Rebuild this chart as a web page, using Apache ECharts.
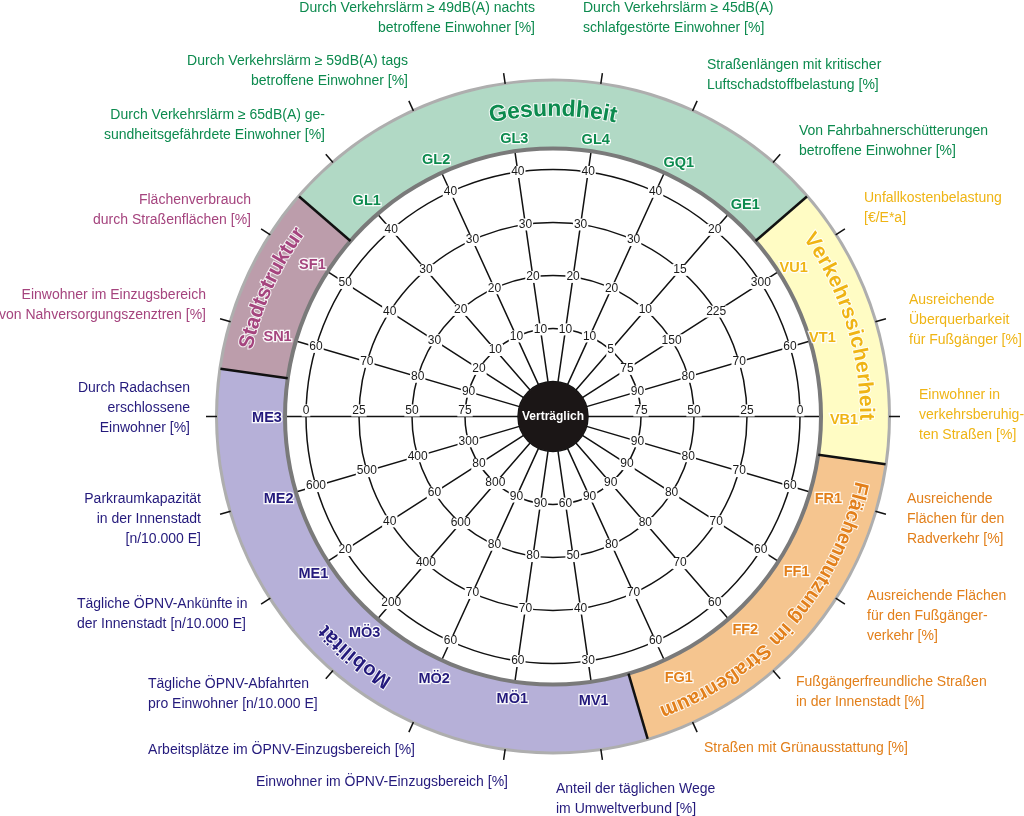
<!DOCTYPE html>
<html>
<head>
<meta charset="utf-8">
<title>Verträglichkeit</title>
<style>
  html, body { margin: 0; padding: 0; background: #fff; }
  #main { width: 1024px; height: 816px; }
</style>
<script src="https://cdn.jsdelivr.net/npm/echarts@6/dist/echarts.min.js"></script>
</head>
<body>
<div id="main"></div>
<script>
// spokes clockwise, starting with GL1
const spokeCodes = ['GL1', 'GL2', 'GL3', 'GL4', 'GQ1', 'GE1', 'VU1', 'VT1', 'VB1', 'FR1', 'FF1', 'FF2', 'FG1', 'MV1', 'MÖ1', 'MÖ2', 'MÖ3', 'ME1', 'ME2', 'ME3', 'SN1', 'SF1'];
// tick labels of each spoke, outer ring first
const spokeTicks = [
  [40, 30, 20, 10], [40, 30, 20, 10], [40, 30, 20, 10], [40, 30, 20, 10], [40, 30, 20, 10],
  [20, 15, 10, 5], [300, 225, 150, 75], [60, 70, 80, 90], [0, 25, 50, 75],
  [60, 70, 80, 90], [60, 70, 80, 90], [60, 70, 80, 90], [60, 70, 80, 90], [30, 40, 50, 60],
  [60, 70, 80, 90], [60, 70, 80, 90], [200, 400, 600, 800], [20, 40, 60, 80],
  [600, 500, 400, 300], [0, 25, 50, 75], [60, 70, 80, 90], [50, 40, 30, 20]
];
// sectors: how many spokes each one holds
const sectorNames = ['Gesundheit', 'Verkehrssicherheit', 'Flächennutzung im Straßenraum', 'Mobilität', 'Stadtstruktur'];
const sectorSpokes = [6, 3, 4, 7, 2];
const sectorFill = ['#b1d9c5', '#fffcc4', '#f5c58f', '#b6b0d8', '#bc9dab'];
const sectorInk = ['#0c8a4e', '#efb414', '#e27f1a', '#241a7c', '#a5447e'];
// title placement along the band: centre and span in degrees from north, radius, font size
const titleCentre = [0, 72.5, 131, 219.5, 294.5];
const titleSpan = [24, 36, 58, 16, 24];
const titleRadius = [307, 313, 315, 313, 314];
const titleSize = [23, 21, 20, 20, 21];
// the code labels do not sit exactly on their spokes, pixel nudge for each
const codeNudge = [
  [1, 1], [2, 4], [2, 6], [2, 7], [7, 7], [5, 5], [0, 6], [-5, 2], [5, 3], [1, 2], [3, 1],
  [5, -3], [7, 1], [0, 1], [0, -1], [0, 2], [-1, 0], [1, 3], [0, 2], [0, 1], [-1, 1], [0, 3]
];

const indicatorTexts = [
  'Durch Verkehrslärm ≥ 65dB(A) ge-\nsundheitsgefährdete Einwohner [%]',
  'Durch Verkehrslärm ≥ 59dB(A) tags\nbetroffene Einwohner [%]',
  'Durch Verkehrslärm ≥ 49dB(A) nachts\nbetroffene Einwohner [%]',
  'Durch Verkehrslärm ≥ 45dB(A)\nschlafgestörte Einwohner [%]',
  'Straßenlängen mit kritischer\nLuftschadstoffbelastung [%]',
  'Von Fahrbahnerschütterungen\nbetroffene Einwohner [%]',
  'Unfallkostenbelastung\n[€/E*a]',
  'Ausreichende\nÜberquerbarkeit\nfür Fußgänger [%]',
  'Einwohner in\nverkehrsberuhig-\nten Straßen [%]',
  'Ausreichende\nFlächen für den\nRadverkehr [%]',
  'Ausreichende Flächen\nfür den Fußgänger-\nverkehr [%]',
  'Fußgängerfreundliche Straßen\nin der Innenstadt [%]',
  'Straßen mit Grünausstattung [%]',
  'Anteil der täglichen Wege\nim Umweltverbund [%]',
  'Einwohner im ÖPNV-Einzugsbereich [%]',
  'Arbeitsplätze im ÖPNV-Einzugsbereich [%]',
  'Tägliche ÖPNV-Abfahrten\npro Einwohner [n/10.000 E]',
  'Tägliche ÖPNV-Ankünfte in\nder Innenstadt [n/10.000 E]',
  'Parkraumkapazität\nin der Innenstadt\n[n/10.000 E]',
  'Durch Radachsen\nerschlossene\nEinwohner [%]',
  'Einwohner im Einzugsbereich\nvon Nahversorgungszenztren [%]',
  'Flächenverbrauch\ndurch Straßenflächen [%]'
];
// where each text sits: x, y of the first line centre, alignment
const textAnchors = [
  [325, 114, 'right'], [408, 60, 'right'], [535, 7, 'right'], [583, 7, 'left'], [707, 64, 'left'], [799, 130, 'left'],
  [864, 197, 'left'], [909, 299, 'left'], [919, 394, 'left'], [907, 498, 'left'], [867, 595, 'left'], [796, 681, 'left'],
  [704, 747, 'left'], [556, 788, 'left'], [508, 781, 'right'], [415, 749, 'right'], [148, 683, 'left'], [77, 603, 'left'],
  [201, 498, 'right'], [190, 387, 'right'], [206, 294, 'right'], [251, 199, 'right']
];

const FONT = '"Liberation Sans", Arial, sans-serif';
const CX = 553, CY = 416.5;
const R_CORE = 35, R_INNER = 268, R_BAND = 335, R_OUTER = 338;
const RING_STEP = 53;
const step = 360 / spokeCodes.length;
const firstSpoke = -2.5 * step; // GL1, clockwise from north

function sectorOf(i) {
  let n = 0;
  for (let s = 0; s < sectorSpokes.length; s++) {
    n += sectorSpokes[s];
    if (i < n) return s;
  }
  return 0;
}

// degrees from north -> value on the angle axis
function fromNorth(a) {
  return ((a - firstSpoke) % 360 + 360) % 360;
}

const tickData = [];
spokeTicks.forEach(function (ticks, i) {
  ticks.forEach(function (t, j) {
    const horizontal = Math.abs(((i * step + firstSpoke) % 180 + 180) % 180 - 90) < 0.01;
    tickData.push({
      value: [4 - j, i * step],
      label: {
        formatter: String(t),
        offset: horizontal ? [0, -6] : [0, 0]
      }
    });
  });
});

const codeData = spokeCodes.map(function (code, i) {
  const s = sectorOf(i);
  return {
    value: [286, i * step],
    label: { formatter: code, color: sectorInk[s], offset: codeNudge[i] }
  };
});

// sector titles follow the band, one label per letter
const measure = document.createElement('canvas').getContext('2d');
const letterData = [];
sectorNames.forEach(function (name, s) {
  measure.font = 'bold ' + titleSize[s] + 'px ' + FONT;
  const total = measure.measureText(name).width;
  let used = 0;
  name.split('').forEach(function (ch) {
    const w = measure.measureText(ch).width;
    const a = titleCentre[s] + ((used + w / 2) / total - 0.5) * titleSpan[s];
    used += w;
    if (ch === ' ') return;
    letterData.push({
      value: [titleRadius[s], fromNorth(a)],
      label: {
        formatter: ch,
        rotate: -a,
        fontSize: titleSize[s],
        color: sectorInk[s]
      }
    });
  });
});

function segment(r0, r1, a, width) {
  return {
    type: 'line',
    coordinateSystem: 'polar',
    polarIndex: 1,
    silent: true,
    symbol: 'none',
    z: 4,
    lineStyle: { color: '#111', width: width },
    data: [[r0, a], [r1, a]]
  };
}

const boundarySeries = [];
let spokeCount = 0;
sectorSpokes.forEach(function (n) {
  boundarySeries.push(segment(R_INNER, R_BAND + 1, (spokeCount - 0.5 + spokeCodes.length) * step % 360, 2.5));
  spokeCount += n;
});
const outerTicks = spokeCodes.map(function (c, i) {
  return segment(R_OUTER - 2, R_OUTER + 9, i * step, 1.5);
});

// scatter fades to 0.8 by default and its labels inherit that
const hiddenDot = { color: 'transparent', opacity: 1 };

const option = {
  animation: false,
  backgroundColor: '#fff',
  polar: [
    { center: [CX, CY], radius: [R_CORE, R_INNER] },
    { center: [CX, CY], radius: [0, 400] }
  ],
  angleAxis: [
    {
      polarIndex: 0, type: 'value', min: 0, max: 360, interval: step,
      startAngle: 90 - firstSpoke, clockwise: true,
      axisLine: { show: false }, axisTick: { show: false }, axisLabel: { show: false },
      splitLine: { show: true, lineStyle: { color: '#111', width: 1.5 } }
    },
    {
      polarIndex: 1, type: 'value', min: 0, max: 360,
      startAngle: 90 - firstSpoke, clockwise: true,
      axisLine: { show: false }, axisTick: { show: false }, axisLabel: { show: false }, splitLine: { show: false }
    }
  ],
  radiusAxis: [
    {
      polarIndex: 0, type: 'value', min: 0, max: (R_INNER - R_CORE) / RING_STEP, interval: 1,
      axisLine: { show: false }, axisTick: { show: false }, axisLabel: { show: false },
      splitLine: { show: true, lineStyle: { color: '#111', width: 1.5 } }
    },
    {
      polarIndex: 1, type: 'value', min: 0, max: 400,
      axisLine: { show: false }, axisTick: { show: false }, axisLabel: { show: false }, splitLine: { show: false }
    }
  ],
  graphic: indicatorTexts.map(function (txt, i) {
    const a = textAnchors[i];
    return {
      type: 'text',
      silent: true,
      x: a[0],
      y: a[1] - 9,
      style: {
        text: txt,
        font: '14px ' + FONT,
        lineHeight: 20,
        textAlign: a[2],
        textVerticalAlign: 'top',
        fill: sectorInk[sectorOf(i)]
      }
    };
  }),
  series: [
    {
      type: 'pie', silent: true, z: 1, center: [CX, CY], radius: [R_BAND - 2, R_OUTER],
      label: { show: false }, labelLine: { show: false },
      data: [{ value: 1, itemStyle: { color: '#aeaeae' } }]
    },
    {
      type: 'pie', silent: true, z: 2, center: [CX, CY], radius: [R_INNER, R_BAND],
      startAngle: 90 - firstSpoke + step / 2, sort: null, clockwise: true,
      label: { show: false }, labelLine: { show: false },
      data: sectorSpokes.map(function (n, s) {
        return { name: sectorNames[s], value: n, itemStyle: { color: sectorFill[s] } };
      })
    },
    {
      type: 'pie', silent: true, z: 3, center: [CX, CY], radius: [R_INNER - 2, R_INNER + 2],
      label: { show: false }, labelLine: { show: false },
      data: [{ value: 1, itemStyle: { color: '#7a7a7a' } }]
    },
    {
      type: 'pie', silent: true, z: 6, center: [CX, CY], radius: [0, R_CORE],
      labelLine: { show: false },
      label: { show: true, position: 'center', formatter: 'Verträglich', color: '#fff', fontFamily: FONT, fontWeight: 'bold', fontSize: 12 },
      data: [{ value: 1, itemStyle: { color: '#1b1616' } }]
    },
    {
      type: 'scatter', coordinateSystem: 'polar', polarIndex: 0, silent: true, z: 5,
      symbolSize: 1, itemStyle: hiddenDot,
      label: { show: true, position: 'inside', fontFamily: FONT, fontSize: 12, color: '#1a1a1a', backgroundColor: '#fff', padding: [0, 1, 0, 1] },
      data: tickData
    },
    {
      type: 'scatter', coordinateSystem: 'polar', polarIndex: 1, silent: true, z: 7,
      symbolSize: 1, itemStyle: hiddenDot,
      label: { show: true, position: 'inside', fontFamily: FONT, fontWeight: 'bold', fontSize: 14.5, textBorderColor: 'rgba(255,255,255,0.9)', textBorderWidth: 2.5 },
      data: codeData
    },
    {
      type: 'scatter', coordinateSystem: 'polar', polarIndex: 1, silent: true, z: 7,
      symbolSize: 1, itemStyle: hiddenDot,
      label: { show: true, position: 'inside', fontFamily: FONT, fontWeight: 'bold', textBorderColor: 'rgba(255,255,255,0.85)', textBorderWidth: 2 },
      data: letterData
    }
  ].concat(boundarySeries, outerTicks)
};

const chart = echarts.init(document.getElementById('main'));
chart.setOption(option);
</script>
</body>
</html>
